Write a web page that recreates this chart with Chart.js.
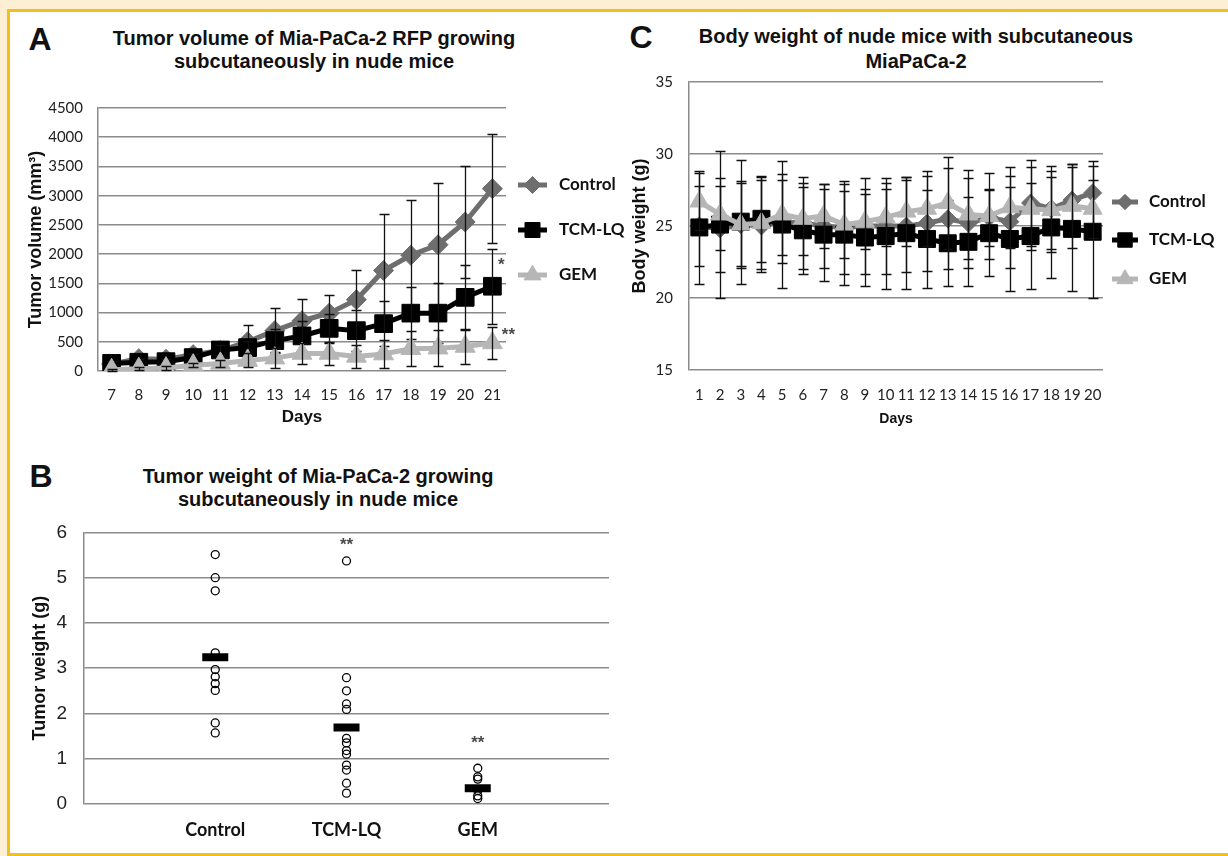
<!DOCTYPE html>
<html lang="en">
<head>
<meta charset="UTF-8">
<title>Mia-PaCa-2 tumour growth figure</title>
<script src="https://cdn.jsdelivr.net/npm/chart.js"></script>
<style>
  html, body { margin: 0; padding: 0; }
  body { width: 1228px; height: 856px; background: #fcefd3; position: relative; overflow: hidden; font-family: "Liberation Sans", Arial, sans-serif; }
  #frame { position: absolute; left: 7px; top: 9px; width: 1240px; height: 841px; border: 3px solid #f4bf1c; background: #fff; }
  canvas { position: absolute; }
  .lbl { position: absolute; transform: translate(-50%, -50%); white-space: nowrap; color: #111; }
  .letter { font: bold 32px "Liberation Sans", Arial, sans-serif; }
  .title { font: bold 20px "Liberation Sans", Arial, sans-serif; }
</style>
</head>
<body>
<div id="frame"></div>

<div class="lbl letter" style="left:40px;top:39px">A</div>
<div class="lbl title" style="left:314px;top:38px">Tumor volume of Mia-PaCa-2 RFP growing</div>
<div class="lbl title" style="left:314px;top:61px">subcutaneously in nude mice</div>

<div class="lbl letter" style="left:41px;top:476px">B</div>
<div class="lbl title" style="left:318px;top:476px">Tumor weight of Mia-PaCa-2 growing</div>
<div class="lbl title" style="left:318px;top:499px">subcutaneously in nude mice</div>

<div class="lbl letter" style="left:641px;top:37px">C</div>
<div class="lbl title" style="left:916px;top:36px">Body weight of nude mice with subcutaneous</div>
<div class="lbl title" style="left:916px;top:61px">MiaPaCa-2</div>

<canvas id="chartA" width="640" height="360" style="left:0;top:80px"></canvas>
<canvas id="chartB" width="620" height="341" style="left:0;top:504px"></canvas>
<canvas id="chartC" width="608" height="383" style="left:620px;top:57px"></canvas>

<script>
// ---- A: tumor volume (mm3), mean +/- error, days 7-21
const tvDays = ['7', '8', '9', '10', '11', '12', '13', '14', '15', '16', '17', '18', '19', '20', '21'];
const tvControl    = [120, 210, 200, 280, 350, 500, 690, 860, 990, 1220, 1720, 1980, 2160, 2550, 3120];
const tvControlErr = [40, 50, 50, 60, 100, 280, 390, 380, 310, 500, 960, 945, 1065, 965, 935];
const tvTcm        = [130, 150, 160, 230, 360, 400, 520, 600, 730, 690, 810, 990, 990, 1260, 1450];
const tvTcmErr     = [40, 50, 50, 60, 80, 120, 200, 250, 250, 350, 390, 450, 510, 560, 640];
const tvGem        = [20, 40, 50, 100, 130, 180, 220, 300, 300, 250, 290, 380, 390, 420, 480];
const tvGemErr     = [20, 30, 30, 40, 60, 120, 170, 180, 200, 200, 235, 300, 305, 300, 280];

// ---- B: tumor weight (g), individual mice + mean
const twGroups  = ['Control', 'TCM-LQ', 'GEM'];
const twControl = [5.51, 5.0, 4.71, 3.34, 2.97, 2.81, 2.66, 2.51, 1.79, 1.57];
const twTcm     = [5.37, 2.79, 2.50, 2.21, 2.09, 1.45, 1.35, 1.18, 1.10, 0.86, 0.75, 0.46, 0.24];
const twGem     = [0.79, 0.60, 0.55, 0.30, 0.18, 0.12];
const twMean    = [3.24, 1.69, 0.35];

// ---- C: body weight (g), days 1-20
const bwDays = ['1', '2', '3', '4', '5', '6', '7', '8', '9', '10', '11', '12', '13', '14', '15', '16', '17', '18', '19', '20'];
const bwControl    = [25.0, 24.8, 25.1, 25.0, 25.3, 25.2, 25.0, 24.9, 25.0, 25.0, 25.0, 25.2, 25.5, 25.2, 25.6, 25.3, 26.6, 26.2, 26.8, 27.3];
const bwControlErr = [2.8, 3.0, 3.0, 3.2, 2.9, 3.2, 2.9, 3.2, 3.3, 3.3, 3.2, 3.3, 3.5, 3.1, 2.0, 3.2, 3.0, 3.0, 2.5, 2.2];
const bwTcm        = [24.9, 25.1, 25.3, 25.5, 25.1, 24.7, 24.4, 24.4, 24.2, 24.3, 24.5, 24.1, 23.8, 23.9, 24.5, 24.1, 24.3, 24.9, 24.8, 24.6];
const bwTcmErr     = [3.9, 5.1, 4.3, 3.0, 4.4, 3.0, 3.2, 3.5, 3.4, 3.7, 3.9, 3.4, 3.0, 3.1, 3.0, 3.6, 3.7, 3.5, 4.3, 4.6];
const bwGem        = [26.7, 25.8, 25.1, 25.2, 25.8, 25.5, 25.7, 25.1, 25.3, 25.6, 26.0, 26.2, 26.6, 25.8, 25.7, 26.3, 26.2, 26.1, 26.4, 26.2];
const bwGemErr     = [2.0, 2.5, 2.9, 3.2, 2.8, 2.5, 2.2, 2.3, 1.9, 2.0, 2.4, 2.6, 3.2, 3.1, 3.0, 2.8, 2.9, 2.7, 2.9, 2.0];

const GRID = '#8b8b8b';
const C_CTRL = '#6e6e6e', C_TCM = '#000000', C_GEM = '#b6b6b6';

// error bars drawn right after each dataset, like excel layering
const errorBars = {
  id: 'errorBars',
  afterDatasetDraw(chart, args, opts) {
    const ds = chart.data.datasets[args.index];
    if (!ds.errors) return;
    const y = chart.scales.y, ctx = chart.ctx;
    ctx.save();
    ctx.strokeStyle = '#111';
    ctx.lineWidth = opts.width || 1.3;
    const cap = opts.cap || 5;
    args.meta.data.forEach((pt, j) => {
      const v = ds.data[j], e = ds.errors[j];
      const t = Math.round(y.getPixelForValue(v + e)) + 0.5;
      const b = Math.round(y.getPixelForValue(v - e)) + 0.5;
      const x = Math.round(pt.x) + 0.5;
      ctx.beginPath();
      ctx.moveTo(x, t); ctx.lineTo(x, b);
      ctx.moveTo(x - cap, t); ctx.lineTo(x + cap, t);
      ctx.moveTo(x - cap, b); ctx.lineTo(x + cap, b);
      ctx.stroke();
    });
    ctx.restore();
  }
};

// legend to the right: line with marker, then label
const sideLegend = {
  id: 'sideLegend',
  afterDraw(chart, args, opts) {
    if (!opts.ys) return;
    const ctx = chart.ctx;
    opts.ys.forEach((yy, i) => {
      const ds = chart.data.datasets[i];
      ctx.save();
      ctx.strokeStyle = ds.borderColor;
      ctx.lineWidth = ds.borderWidth;
      ctx.beginPath();
      ctx.moveTo(opts.x, yy); ctx.lineTo(opts.x + opts.len, yy);
      ctx.stroke();
      ctx.fillStyle = ds.borderColor;
      ctx.lineWidth = 1;
      Chart.helpers.drawPoint(ctx, { pointStyle: ds.pointStyle, radius: ds.pointRadius * opts.scale, borderWidth: 1, rotation: 0 }, opts.x + opts.len / 2, yy);
      ctx.fillStyle = '#111';
      ctx.font = opts.font;
      ctx.textBaseline = 'middle';
      ctx.fillText(ds.label, opts.textX, yy);
      ctx.restore();
    });
  }
};

// significance stars
const stars = {
  id: 'stars',
  afterDraw(chart, args, opts) {
    if (!opts.marks) return;
    const ctx = chart.ctx;
    ctx.save();
    ctx.font = opts.font;
    ctx.fillStyle = '#4a4a4a';
    ctx.textAlign = 'center';
    ctx.textBaseline = 'middle';
    opts.marks.forEach(m => {
      ctx.fillText(m.text, chart.scales.x.getPixelForValue(m.x) + (m.dx || 0), chart.scales.y.getPixelForValue(m.y));
    });
    ctx.restore();
  }
};

function lineSet(label, data, errors, color, style, radius, order) {
  return {
    label, data, errors, order,
    borderColor: color, backgroundColor: color,
    pointBackgroundColor: color, pointBorderColor: color,
    pointStyle: style, pointRadius: radius, pointBorderWidth: 1,
    borderWidth: 5, tension: 0
  };
}

const tickFont = { family: 'Lato', size: 15 };
const yTitleFont = { family: 'Liberation Sans', size: 18, weight: 'bold' };
const plain = v => v;

new Chart(document.getElementById('chartA'), {
  type: 'line',
  data: {
    labels: tvDays,
    datasets: [
      lineSet('Control', tvControl, tvControlErr, C_CTRL, 'rectRot', 10, 3),
      lineSet('TCM-LQ', tvTcm, tvTcmErr, C_TCM, 'rect', 12.5, 2),
      lineSet('GEM', tvGem, tvGemErr, C_GEM, 'triangle', 11.5, 1)
    ]
  },
  options: {
    responsive: false, animation: false,
    layout: { autoPadding: false, padding: { top: 28, right: 134, left: 0, bottom: 0 } },
    plugins: {
      legend: { display: false }, tooltip: { enabled: false },
      errorBars: { cap: 5 },
      sideLegend: { x: 518, len: 29, scale: 0.85, textX: 559, ys: [105, 150, 195], font: 'bold 17px Lato' },
      stars: { font: 'bold 17px "Liberation Sans"', marks: [{ text: '*', x: 14, y: 1813, dx: 9 }, { text: '**', x: 14, y: 616, dx: 16 }] }
    },
    scales: {
      x: {
        offset: true,
        grid: { display: false }, border: { display: false },
        ticks: { font: tickFont, color: '#222', padding: 7, maxRotation: 0, autoSkip: false },
        title: { display: true, text: 'Days', font: { family: 'Liberation Sans', size: 17, weight: 'bold' }, color: '#111', padding: { top: 0, bottom: 12 } },
        afterFit(s) { s.height = 69; }
      },
      y: {
        min: 0, max: 4500,
        grid: { color: GRID, lineWidth: 1.5, drawTicks: false },
        border: { display: true, color: GRID, width: 1.5 },
        ticks: { stepSize: 500, font: tickFont, color: '#222', padding: 15, callback: plain },
        title: { display: true, text: 'Tumor volume (mm³)', font: yTitleFont, color: '#111', padding: { top: 25 } },
        afterFit(s) { s.width = 98; }
      }
    }
  },
  plugins: [errorBars, sideLegend, stars]
});

function dots(values, xPos, order) {
  return {
    data: values.map(v => ({ x: xPos, y: v })), order,
    pointStyle: 'circle', pointRadius: 4, pointBorderWidth: 1.3,
    pointBorderColor: '#000', pointBackgroundColor: 'rgba(255,255,255,0)', showLine: false
  };
}

new Chart(document.getElementById('chartB'), {
  type: 'scatter',
  data: {
    datasets: [
      {
        data: twMean.map((v, i) => ({ x: i + 1, y: v })), order: 0,
        pointStyle: 'line', pointRadius: 13, pointBorderWidth: 8, pointBorderColor: '#000', showLine: false
      },
      dots(twControl, 1, 1),
      dots(twTcm, 2, 1),
      dots(twGem, 3, 1)
    ]
  },
  options: {
    responsive: false, animation: false,
    layout: { autoPadding: false, padding: { top: 17, right: 11, left: 0, bottom: 0 } },
    plugins: {
      legend: { display: false }, tooltip: { enabled: false },
      stars: { font: 'bold 17px "Liberation Sans"', marks: [{ text: '**', x: 2, y: 5.72 }, { text: '**', x: 3, y: 1.35 }] }
    },
    scales: {
      x: {
        type: 'linear', min: 0, max: 4,
        afterBuildTicks(s) { s.ticks = [1, 2, 3].map(v => ({ value: v })); },
        grid: { display: false }, border: { display: false },
        ticks: { font: { family: 'Lato', size: 18, weight: 'bold' }, color: '#111', padding: 7, callback: v => twGroups[v - 1] },
        afterFit(s) { s.height = 41; }
      },
      y: {
        min: 0, max: 6,
        grid: { color: GRID, lineWidth: 1.5, drawTicks: false },
        border: { display: true, color: GRID, width: 1.5 },
        ticks: { stepSize: 1, font: { family: 'Liberation Sans', size: 19 }, color: '#222', padding: 17 },
        title: { display: true, text: 'Tumor weight (g)', font: yTitleFont, color: '#111', padding: { top: 29 } },
        afterFit(s) { s.width = 84; }
      }
    }
  },
  plugins: [stars]
});

new Chart(document.getElementById('chartC'), {
  type: 'line',
  data: {
    labels: bwDays,
    datasets: [
      lineSet('Control', bwControl, bwControlErr, C_CTRL, 'rectRot', 9, 3),
      lineSet('TCM-LQ', bwTcm, bwTcmErr, C_TCM, 'rect', 12, 2),
      lineSet('GEM', bwGem, bwGemErr, C_GEM, 'triangle', 11, 1)
    ]
  },
  options: {
    responsive: false, animation: false,
    layout: { autoPadding: false, padding: { top: 12, right: 125, left: 0, bottom: 0 } },
    plugins: {
      legend: { display: false }, tooltip: { enabled: false },
      errorBars: { cap: 5 },
      sideLegend: { x: 492, len: 26, scale: 0.85, textX: 529, ys: [145, 183, 222], font: 'bold 17px Lato' }
    },
    scales: {
      x: {
        offset: true,
        grid: { display: false }, border: { display: false },
        ticks: { font: { family: 'Lato', size: 15 }, color: '#222', padding: 8, maxRotation: 0, autoSkip: false },
        title: { display: true, text: 'Days', font: { family: 'Liberation Sans', size: 14, weight: 'bold' }, color: '#111', padding: { top: 0, bottom: 12 } },
        afterFit(s) { s.height = 70; }
      },
      y: {
        min: 15, max: 35,
        grid: { color: GRID, lineWidth: 1.5, drawTicks: false },
        border: { display: true, color: GRID, width: 1.5 },
        ticks: { stepSize: 5, font: { family: 'Lato', size: 15 }, color: '#222', padding: 16 },
        title: { display: true, text: 'Body weight (g)', font: yTitleFont, color: '#111', padding: { top: 9 } },
        afterFit(s) { s.width = 69; }
      }
    }
  },
  plugins: [errorBars, sideLegend]
});
</script>
</body>
</html>
